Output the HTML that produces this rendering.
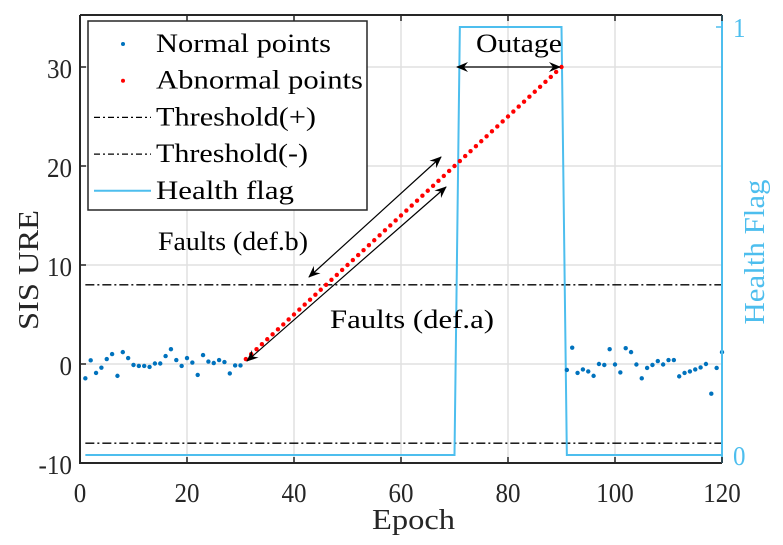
<!DOCTYPE html>
<html><head><meta charset="utf-8"><style>
body{margin:0;background:#fff;}
svg{display:block;font-family:"Liberation Serif",serif;}
</style></head><body>
<svg id="chart" width="783" height="545">
<defs>
<marker id="ah" viewBox="0 0 12 12" refX="11" refY="6" markerWidth="12" markerHeight="12" markerUnits="userSpaceOnUse" orient="auto-start-reverse"><path d="M0,1 L12,6 L0,11 L4,6 Z" fill="#000"/></marker>
</defs>
<g id="grid"></g>
<g id="series"></g>
<g id="axes"></g>
</svg>
<script>
const normalEpochs=[1,2,3,4,5,6,7,8,9,10,11,12,13,14,15,16,17,18,19,20,21,22,23,24,25,26,27,28,29,30,
91,92,93,94,95,96,97,98,99,100,101,102,103,104,105,106,107,108,109,110,111,112,113,114,115,116,117,118,119,120];
const normalValues=[-1.45,0.37,-0.9,-0.37,0.5,1.0,-1.2,1.2,0.6,-0.1,-0.2,-0.2,-0.3,0.05,0.05,0.8,1.5,0.4,-0.2,0.6,0.15,-1.1,0.9,0.25,0.1,0.4,0.2,-0.95,-0.15,-0.15,
-0.6,1.65,-0.9,-0.55,-0.75,-1.2,0,-0.1,1.5,-0.05,-0.85,1.6,1.2,-0.05,-1.45,-0.4,-0.1,0.3,-0.05,0.4,0.4,-1.25,-0.9,-0.75,-0.55,-0.35,0,-3.0,-0.4,1.2];
const abnormalStart=31, abnormalEnd=90, abnormalStartVal=0.5, abnormalEndVal=30;
const thresholds=[8,-8];
const healthEpochs=[1,70,71,90,91,120];
const healthValues=[0,0,1,1,0,0];
const xTicks=[0,20,40,60,80,100,120];
const yTicks=[-10,0,10,20,30];

const L=80,R=722,T=15,B=463;
const X=v=>L+(v/120)*(R-L);
const Y=v=>364-v*9.9;
const H=v=>455-v*428;
const NS="http://www.w3.org/2000/svg";
function mk(tag,attrs,parent){const e=document.createElementNS(NS,tag);for(const k in attrs)e.setAttribute(k,attrs[k]);parent.appendChild(e);return e;}
const grid=document.getElementById('grid'),ser=document.getElementById('series'),ax=document.getElementById('axes');

xTicks.forEach(t=>{const l=mk('line',{x1:X(t),x2:X(t),y1:T,y2:B,stroke:'#e0e0e0','stroke-width':1.5},grid);
});
yTicks.forEach(t=>{const l=mk('line',{x1:L,x2:R,y1:Y(t),y2:Y(t),stroke:'#e0e0e0','stroke-width':1.5},grid);
});

thresholds.forEach((t,i)=>{const l=mk('line',{x1:X(1),x2:X(120),y1:Y(t),y2:Y(t),stroke:'#000','stroke-width':1.3,'stroke-dasharray':'9,3,2,3'},ser);
});

const hp=mk('polyline',{points:healthEpochs.map((e,i)=>X(e)+','+H(healthValues[i])).join(' '),fill:'none',stroke:'#4dbeee','stroke-width':2},ser);


normalEpochs.forEach((e,i)=>{const c=mk('circle',{cx:X(e),cy:Y(normalValues[i]),r:2.2,fill:'#0072bd'},ser);
});
for(let e=abnormalStart;e<=abnormalEnd;e++){
const v=abnormalStartVal+(abnormalEndVal-abnormalStartVal)*(e-abnormalStart)/(abnormalEnd-abnormalStart);
const c=mk('circle',{cx:X(e),cy:Y(v),r:2.2,fill:'#ff0000'},ser);
}

[[457,67,560,67,'outage-arrow'],[441,157,309,277,'faults-b-arrow'],[446,187,247,361,'faults-a-arrow']].forEach(a=>{
const l=mk('line',{x1:a[0],y1:a[1],x2:a[2],y2:a[3],stroke:'#000','stroke-width':1.2,'marker-start':'url(#ah)','marker-end':'url(#ah)'},ser);
});
[['Outage',476,52,86,'outage-label'],['Faults (def.b)',158,250,150,'faults-b-label'],['Faults (def.a)',330,328,164,'faults-a-label']].forEach(a=>{
const t=mk('text',{x:a[1],y:a[2],'font-size':26,fill:'#000',textLength:a[3],lengthAdjust:'spacingAndGlyphs'},ser);t.textContent=a[0];
});

const fr=mk('path',{d:`M${L},${T}V${B}H${R}M${L},${T}H${R}`,fill:'none',stroke:'#262626','stroke-width':2},ax);

const ra=mk('line',{x1:R,x2:R,y1:T,y2:B,stroke:'#4dbeee','stroke-width':2},ax);

xTicks.forEach(t=>{mk('line',{x1:X(t),x2:X(t),y1:B,y2:B-6,stroke:'#262626','stroke-width':1.5},ax);mk('line',{x1:X(t),x2:X(t),y1:T,y2:T+6,stroke:'#262626','stroke-width':1.5},ax);
const s=String(t);
const tx=mk('text',{x:X(t),y:502,'font-size':27,'text-anchor':'middle',fill:'#262626',textLength:s.length*12.5,lengthAdjust:'spacingAndGlyphs'},ax);tx.textContent=s;
});
yTicks.forEach(t=>{mk('line',{x1:L,x2:L+6,y1:Y(t),y2:Y(t),stroke:'#262626','stroke-width':1.5},ax);
const s=String(t);
const tx=mk('text',{x:L-8,y:Y(t)+11,'font-size':27,'text-anchor':'end',fill:'#262626',textLength:s.length*12.5-(t<0?4:0),lengthAdjust:'spacingAndGlyphs'},ax);tx.textContent=s;
});
[[0,'0'],[1,'1']].forEach(h=>{mk('line',{x1:R,x2:R-6,y1:H(h[0]),y2:H(h[0]),stroke:'#4dbeee','stroke-width':1.5},ax);
const tx=mk('text',{x:R+11,y:H(h[0])+10,'font-size':27,fill:'#4dbeee',textLength:12.5,lengthAdjust:'spacingAndGlyphs'},ax);tx.textContent=h[1];
});
let t=mk('text',{x:372,y:529,'font-size':28,fill:'#262626',textLength:83,lengthAdjust:'spacingAndGlyphs'},ax);t.textContent='Epoch';

t=mk('text',{x:38,y:270,'font-size':28,'text-anchor':'middle',fill:'#262626',transform:'rotate(-90 38 270)',textLength:120,lengthAdjust:'spacingAndGlyphs'},ax);t.textContent='SIS URE';

t=mk('text',{x:764,y:252,'font-size':28,'text-anchor':'middle',fill:'#4dbeee',transform:'rotate(-90 764 252)',textLength:145,lengthAdjust:'spacingAndGlyphs'},ax);t.textContent='Health Flag';


const lg=mk('g',{},ax);
mk('rect',{x:88,y:21,width:279,height:189,fill:'#fff',stroke:'#262626','stroke-width':1.5},lg);
const items=[['Normal points','dot','#0072bd',175],['Abnormal points','dot','#ff0000',207],['Threshold(+)','dash','#000',160],['Threshold(-)','dash','#000',152],['Health flag','line','#4dbeee',138]];
items.forEach((it,i)=>{const y=44+i*36.7;
if(it[1]=='dot')mk('circle',{cx:123,cy:y,r:2,fill:it[2]},lg);
else mk('line',{x1:94,x2:151,y1:y,y2:y,stroke:it[2],'stroke-width':it[1]=='line'?2:1.3,'stroke-dasharray':it[1]=='dash'?'6,3,2,3':'none'},lg);
const tx=mk('text',{x:156,y:y+8,'font-size':26,fill:'#000',textLength:it[3],lengthAdjust:'spacingAndGlyphs'},lg);tx.textContent=it[0];
});
</script>
</body></html>
